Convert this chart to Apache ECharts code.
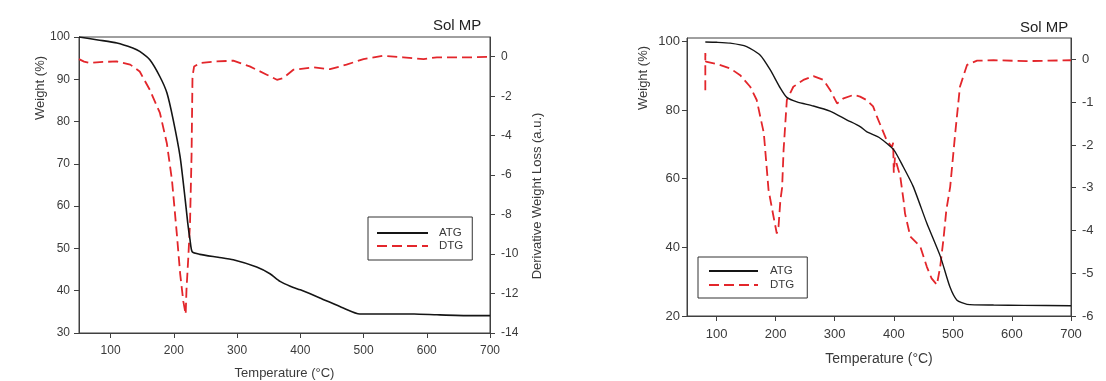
<!DOCTYPE html>
<html><head><meta charset="utf-8">
<script src="https://cdn.jsdelivr.net/npm/echarts@6/dist/echarts.min.js"></script>
<style>html,body{margin:0;padding:0;background:#fff}#c{width:1106px;height:381px}</style>
</head><body><div id="c"></div>
<script>
// ---- tick labels ----
const tempTicks = [100, 200, 300, 400, 500, 600, 700];
const weightTicksA = [30, 40, 50, 60, 70, 80, 90, 100];
const dtgTicksA = [-14, -12, -10, -8, -6, -4, -2, 0];
const weightTicksB = [20, 40, 60, 80, 100];
const dtgTicksB = [-6, -5, -4, -3, -2, -1, 0];
const seriesNames = ['ATG', 'DTG'];
const titleText = 'Sol MP';

// ---- left chart (A) ----
const tempAtgA = [50, 80, 110, 135, 146, 162, 178, 189, 199, 210, 218, 222, 225.6, 229, 241, 270, 294, 331, 352, 368, 385, 400, 431, 468, 494, 537, 580, 616, 669, 700];
const weightAtgA = [100, 99.3, 98.6, 97.4, 96.6, 94.6, 90.6, 86.8, 80.4, 71.6, 61.5, 56, 52, 49.2, 48.6, 47.9, 47.3, 45.6, 44.0, 42.2, 41.0, 40.2, 38.3, 35.9, 34.5, 34.5, 34.5, 34.3, 34.1, 34.1];
const tempDtgA = [50, 58, 67, 83, 110, 131, 146, 162, 178, 189, 197, 204.5, 210, 215, 218.7, 220, 223, 225.6, 228, 229.5, 232, 241, 268, 294, 320, 347, 363, 373, 389, 421, 447, 473, 500, 531, 563, 595, 616, 669, 700];
const dtgA = [-0.12, -0.25, -0.32, -0.27, -0.24, -0.4, -0.75, -1.68, -2.85, -4.4, -6.24, -8.9, -11, -12.4, -13.05, -11.8, -10.1, -8.4, -5.0, -1.0, -0.5, -0.32, -0.24, -0.2, -0.49, -0.91, -1.17, -1.08, -0.66, -0.54, -0.63, -0.4, -0.12, 0.05, -0.03, -0.12, -0.03, -0.03, 0];

// ---- right chart (B) ----
const tempAtgB = [81, 100, 123, 151, 174, 191, 208, 219, 236, 264, 292, 321, 343, 354, 377, 400, 416, 433, 456, 479, 495, 507, 524, 569, 620, 700];
const weightAtgB = [99.85, 99.75, 99.5, 98.5, 96, 91.7, 86.4, 83.7, 82.4, 81.2, 79.7, 77.1, 75.2, 73.7, 71.8, 68.4, 63.5, 57.7, 47, 37.3, 28.5, 24.6, 23.4, 23.2, 23.1, 23.0];
const tempDtgB = [81, 81, 82, 101, 123, 140, 157, 168, 180, 188, 196.5, 202, 205, 208, 211, 213.5, 219, 230, 247, 264, 281, 292.5, 304, 315, 332, 343, 354, 365, 371.5, 388, 397, 399, 400, 402, 411, 416.5, 419, 428, 445, 456, 464, 473, 478.6, 484, 489, 495.5, 504, 512, 524, 541, 569, 625, 700];
const dtgB = [-0.72, 0.15, -0.05, -0.11, -0.21, -0.37, -0.64, -0.95, -1.72, -3.05, -3.68, -4.07, -3.9, -3.3, -3.0, -2.12, -0.95, -0.64, -0.48, -0.39, -0.48, -0.72, -1.03, -0.91, -0.83, -0.87, -0.95, -1.1, -1.34, -1.89, -2.05, -1.95, -2.65, -2.3, -2.74, -3.29, -3.6, -4.14, -4.38, -4.85, -5.12, -5.27, -4.85, -4.22, -3.52, -2.98, -1.73, -0.64, -0.13, -0.03, -0.02, -0.04, -0.02];

const FONT = 'Liberation Sans, Arial, sans-serif';
const TXT = '#3a3a3a';
const AX = '#404040';
const BLACK = '#151515';
const RED = '#e3262b';

const pairs = (xs, ys) => xs.map((x, i) => [x, ys[i]]);

function xAx(grid, nameGap, fs, margin) {
  return {
    gridIndex: grid, type: 'value', min: 50, max: 700,
    name: 'Temperature (°C)', nameLocation: 'middle', nameGap: nameGap,
    nameTextStyle: { color: TXT, fontFamily: FONT, fontSize: fs + 1 },
    axisLine: { show: true, onZero: false, lineStyle: { color: AX, width: 1 } },
    axisTick: { show: true, customValues: tempTicks, length: 5, lineStyle: { color: AX } },
    axisLabel: { customValues: tempTicks, color: TXT, fontFamily: FONT, fontSize: fs, margin: margin },
    splitLine: { show: false }
  };
}
function yAx(grid, pos, min, max, ticks, fs, margin) {
  return {
    gridIndex: grid, type: 'value', position: pos, min: min, max: max,
    axisLine: { show: true, onZero: false, lineStyle: { color: AX, width: 1 } },
    axisTick: { show: true, customValues: ticks, length: 5, lineStyle: { color: AX } },
    axisLabel: { customValues: ticks, color: TXT, fontFamily: FONT, fontSize: fs, margin: margin },
    splitLine: { show: false }
  };
}

const option = {
  backgroundColor: '#fff',
  animation: false,
  grid: [
    { left: 79, right: 1106 - 490, top: 37, bottom: 381 - 333, containLabel: false, outerBoundsMode: 'none', show: true, borderColor: AX, borderWidth: 1, backgroundColor: 'transparent' },
    { left: 687, right: 1106 - 1071, top: 38, bottom: 381 - 316, containLabel: false, outerBoundsMode: 'none', show: true, borderColor: AX, borderWidth: 1, backgroundColor: 'transparent' }
  ],
  title: [
    { text: titleText, left: 428, top: 13, textStyle: { fontFamily: FONT, fontSize: 15, fontWeight: 'normal', color: '#222' } },
    { text: titleText, left: 1015, top: 15, textStyle: { fontFamily: FONT, fontSize: 15, fontWeight: 'normal', color: '#222' } }
  ],
  legend: [
    { data: seriesNames, orient: 'vertical', left: 368, top: 217, padding: [10, 9, 8, 8], itemWidth: 51, itemHeight: 14, itemGap: 1,
      borderColor: '#333', borderWidth: 1, backgroundColor: '#fff',
      textStyle: { fontFamily: FONT, fontSize: 11.5, color: TXT, padding: [0, 0, 0, 6] },
      itemStyle: { opacity: 0 } },
    { data: seriesNames, orient: 'vertical', left: 698, top: 257, padding: [8, 13, 7, 10], itemWidth: 49, itemHeight: 14, itemGap: 2,
      borderColor: '#333', borderWidth: 1, backgroundColor: '#fff',
      textStyle: { fontFamily: FONT, fontSize: 11.5, color: TXT, padding: [0, 0, 0, 7] },
      itemStyle: { opacity: 0 } }
  ],
  xAxis: [ xAx(0, 34, 12, 12), xAx(1, 36, 13, 12) ],
  yAxis: [
    yAx(0, 'left', 30, 100, weightTicksA, 12, 9),
    yAx(0, 'right', -14, 1, dtgTicksA, 12, 11),
    yAx(1, 'left', 20, 101, weightTicksB, 13, 7),
    yAx(1, 'right', -6, 0.5, dtgTicksB, 13, 11)
  ],
  graphic: [
    { type: 'text', x: 40, y: 88, rotation: Math.PI / 2, style: { text: 'Weight (%)', fill: TXT, font: '13px ' + FONT, align: 'center', verticalAlign: 'middle' } },
    { type: 'text', x: 537, y: 196, rotation: Math.PI / 2, style: { text: 'Derivative Weight Loss (a.u.)', fill: TXT, font: '13px ' + FONT, align: 'center', verticalAlign: 'middle' } },
    { type: 'text', x: 643, y: 78, rotation: Math.PI / 2, style: { text: 'Weight (%)', fill: TXT, font: '13px ' + FONT, align: 'center', verticalAlign: 'middle' } }
  ],
  series: [
    { name: 'ATG', type: 'line', xAxisIndex: 0, yAxisIndex: 0, data: pairs(tempAtgA, weightAtgA), symbol: 'none', smooth: 0.2, lineStyle: { color: BLACK, width: 1.6 }, itemStyle: { color: BLACK }, z: 3 },
    { name: 'DTG', type: 'line', xAxisIndex: 0, yAxisIndex: 1, data: pairs(tempDtgA, dtgA), symbol: 'none', lineStyle: { color: RED, width: 1.8, type: [10, 5] }, itemStyle: { color: RED }, z: 2 },
    { name: 'ATG', type: 'line', xAxisIndex: 1, yAxisIndex: 2, data: pairs(tempAtgB, weightAtgB), symbol: 'none', smooth: 0.2, lineStyle: { color: BLACK, width: 1.4 }, itemStyle: { color: BLACK }, z: 3 },
    { name: 'DTG', type: 'line', xAxisIndex: 1, yAxisIndex: 3, data: pairs(tempDtgB, dtgB), symbol: 'none', lineStyle: { color: RED, width: 1.8, type: [10, 5] }, itemStyle: { color: RED }, z: 2 }
  ]
};
const chart = echarts.init(document.getElementById('c'), null, { renderer: 'canvas' });
chart.setOption(option);
</script>
</body></html>
